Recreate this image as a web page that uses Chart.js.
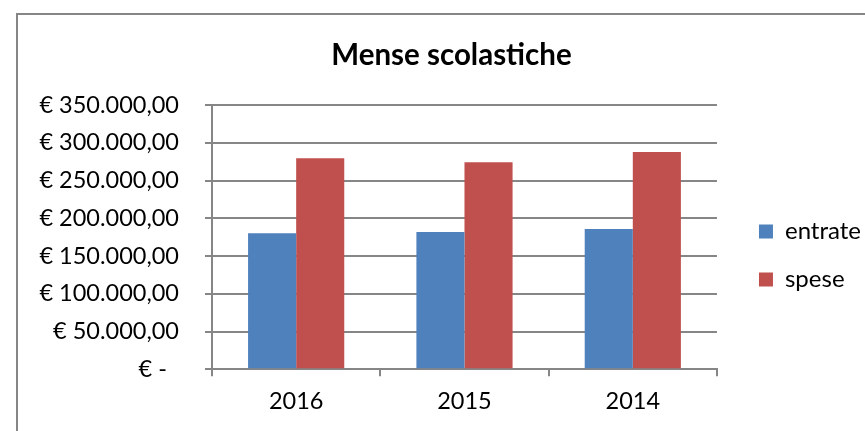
<!DOCTYPE html>
<html>
<head>
<meta charset="utf-8">
<script src="https://cdn.jsdelivr.net/npm/chart.js@4"></script>
<style>
  html, body { margin: 0; padding: 0; background: #fff; }
  .wrap { position: relative; width: 865px; height: 431px; }
  .frame { position: absolute; left: 16px; top: 13px; right: -10px; bottom: -10px;
           border-left: 2px solid #868686; border-top: 2px solid #868686; pointer-events: none; }
  canvas { position: absolute; left: 0; top: 0; }
</style>
</head>
<body>
<div class="wrap">
  <canvas id="chart" width="865" height="431"></canvas>
  <div class="frame"></div>
</div>
<script>
const years = ['2016', '2015', '2014'];
const entrate = [180000, 181800, 185800];
const spese = [279400, 274100, 287700];
const yTicks = [0, 50000, 100000, 150000, 200000, 250000, 300000, 350000];

function euro(v) {
  if (v === 0) return '€ -  ';
  const int = Math.round(v).toString().replace(/\B(?=(\d{3})+(?!\d))/g, '.');
  return '€ ' + int + ',00';
}

Chart.defaults.font.family = 'Lato';
Chart.defaults.color = '#000';

// nudge legend and title to where excel puts them
const excelPlacement = {
  id: 'excelPlacement',
  afterLayout(chart) {
    const l = chart.legend;
    l.left += 18; l.right += 18;
    l.top += 40; l.bottom += 40;
    const t = chart.titleBlock;
    t.left += 25; t.right += 25;
  }
};

const ctx = document.getElementById('chart');

new Chart(ctx, {
  type: 'bar',
  data: {
    labels: years,
    datasets: [
      { label: 'entrate', data: entrate, backgroundColor: '#4F81BD' },
      { label: 'spese', data: spese, backgroundColor: '#C0504D' }
    ]
  },
  options: {
    responsive: false,
    animation: false,
    layout: { padding: { left: 0, right: 12, top: 0, bottom: 0 } },
    datasets: {
      bar: { categoryPercentage: 2 / 3.5, barPercentage: 1 }
    },
    plugins: {
      title: {
        display: true,
        text: 'Mense scolastiche',
        color: '#000',
        font: { size: 29.5, weight: 'bold' },
        padding: { top: 37.3, bottom: 32.3 }
      },
      legend: {
        position: 'right',
        labels: {
          boxWidth: 14,
          boxHeight: 14,
          padding: 24,
          font: { size: 24 }
        }
      },
      tooltip: { enabled: false }
    },
    scales: {
      x: {
        grid: { drawOnChartArea: false, drawTicks: true, tickLength: 7, color: '#868686', lineWidth: 2 },
        border: { color: '#868686', width: 2 },
        ticks: { font: { size: 23.5 }, padding: 11 },
        afterFit: s => { s.height = 61.7; }
      },
      y: {
        min: 0,
        max: 350000,
        afterBuildTicks: s => { s.ticks = yTicks.map(v => ({ value: v })); },
        grid: { color: '#868686', lineWidth: 2, tickLength: 7 },
        border: { color: '#868686', width: 2 },
        ticks: { font: { size: 23.5 }, padding: 26, callback: v => euro(v) },
        afterFit: s => { s.width = 212; }
      }
    }
  },
  plugins: [excelPlacement]
});
</script>
</body>
</html>
